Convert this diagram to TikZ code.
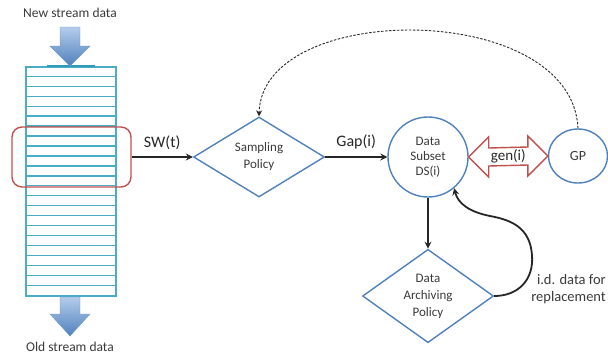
\documentclass[tikz,border=0pt]{standalone}
\usepackage{fontspec}
\setmainfont{Carlito}
\usetikzlibrary{arrows.meta,shapes.geometric,calc}
\definecolor{aqua}{HTML}{4BACC6}
\definecolor{daqua}{HTML}{2E9CB8}
\definecolor{ored}{HTML}{C0504D}
\definecolor{oblue}{HTML}{4F81BD}
\definecolor{lblue}{HTML}{B4CCEC}
\definecolor{txt}{HTML}{3A3A3A}
\definecolor{ink}{HTML}{262626}
\tikzset{
  every node/.style={text=txt},
  diam/.style={diamond, draw=oblue, line width=1.4pt, inner sep=0pt, minimum width=131pt, minimum height=80pt, align=center, font=\fontsize{13}{17}\selectfont},
  circ/.style={circle, draw=oblue, line width=1.4pt, inner sep=0pt, minimum size=80pt, align=center, font=\fontsize{13}{15}\selectfont},
  flow/.style={draw=ink, line width=1.8pt, -{Stealth[length=7pt,width=7pt,inset=2.5pt]}},
  lbl/.style={font=\fontsize{16}{18}\selectfont, text=ink},
  blockarrow/.style={top color=lblue, bottom color=oblue, draw=oblue!80, line width=0.4pt},
}
\begin{document}
\begin{tikzpicture}[x=1pt,y=-1pt]
\useasboundingbox (0,0) rectangle (608,360);
% stream stack
\node[draw=aqua, line width=1.3pt, minimum width=90pt, minimum height=229pt, inner sep=0pt] (stack) at (71,181.5) {};
\foreach \k in {1,...,22} {
  \draw[aqua, line width=1.3pt] ($(stack.north west)+(0,\k*9.957)$) -- ($(stack.north east)+(0,\k*9.957)$);
}
\draw[daqua, line width=1.8pt] ($(stack.north)+(-24,0)$) -- ($(stack.north)+(24,0)$);
% window
\node[draw=ored, line width=1.4pt, rounded corners=10pt, minimum width=119pt, minimum height=60pt] (win) at (71.5,157) {};
% block arrows
\coordinate (inT) at (70,27);
\coordinate (outT) at (70,297);
\path[blockarrow] ($(inT)+(-10,0)$) -- ($(inT)+(10,0)$) -- ($(inT)+(10,19)$) -- ($(inT)+(20,19)$) -- ($(inT)+(0,39)$) -- ($(inT)+(-20,19)$) -- ($(inT)+(-10,19)$) -- cycle;
\path[blockarrow] ($(outT)+(-10,0)$) -- ($(outT)+(10,0)$) -- ($(outT)+(10,17)$) -- ($(outT)+(20,17)$) -- ($(outT)+(0,39)$) -- ($(outT)+(-20,17)$) -- ($(outT)+(-10,17)$) -- cycle;
\node[font=\fontsize{13.5}{15}\selectfont] (newt) at (70,13) {New stream data};
\node[font=\fontsize{13.5}{15}\selectfont] (oldt) at (70,347) {Old stream data};
% nodes
\node[diam] (SP) at (259,157) {Sampling\\Policy};
\node[circ] (DS) at (428,157) {Data\\Subset\\DS(i)};
\node[ellipse, draw=oblue, line width=1.4pt, minimum width=59pt, minimum height=54pt, inner sep=0pt, font=\fontsize{14}{16}\selectfont] (GP) at (578,156) {GP};
\node[diam] (AP) at (428,296) {Data\\Archiving\\Policy};
% connectors
\draw[flow] (win.east) -- node[lbl, above=3pt] {SW(t)} (SP.west);
\draw[flow] (SP.east) -- node[lbl, above=4pt] {Gap(i)} (DS.west);
\draw[flow] (DS.south) -- (AP.north);
\draw[draw=ink, line width=1.8pt, -{Stealth[length=7pt,width=7pt,inset=2.5pt]}] (AP.east) .. controls (518,296) and (534,280) .. (532,255) .. controls (530,228) and (512,220) .. (490,216) .. controls (470,212) and (458,204) .. (DS.-50);
\draw[draw=ink, line width=0.9pt, dashed, dash pattern=on 2.5pt off 1.5pt, -{Stealth[length=6pt,width=6pt,inset=2pt]}] (GP.north) .. controls (572,0) and (262,0) .. (SP.north);
\node[font=\fontsize{14.5}{17}\selectfont, align=right, anchor=east, inner sep=0pt] (idt) at (606,289) {i.d. data for\\replacement};
% double arrow
\coordinate (genc) at ($(DS.east)!0.5!(GP.west)$);
\draw[ored, line width=1.4pt, fill=white, line join=miter] (DS.east) -- ($(DS.east)+(20,-20)$) -- ($(DS.east)+(20,-9)$) -- ($(GP.west)+(-20,-9)$) -- ($(GP.west)+(-20,-20)$) -- (GP.west) -- ($(GP.west)+(-20,20)$) -- ($(GP.west)+(-20,9)$) -- ($(DS.east)+(20,9)$) -- ($(DS.east)+(20,20)$) -- cycle;
\node[font=\fontsize{15}{17}\selectfont, text=ink, inner sep=0pt] (gen) at (genc) {gen(i)};
\end{tikzpicture}
\end{document}
